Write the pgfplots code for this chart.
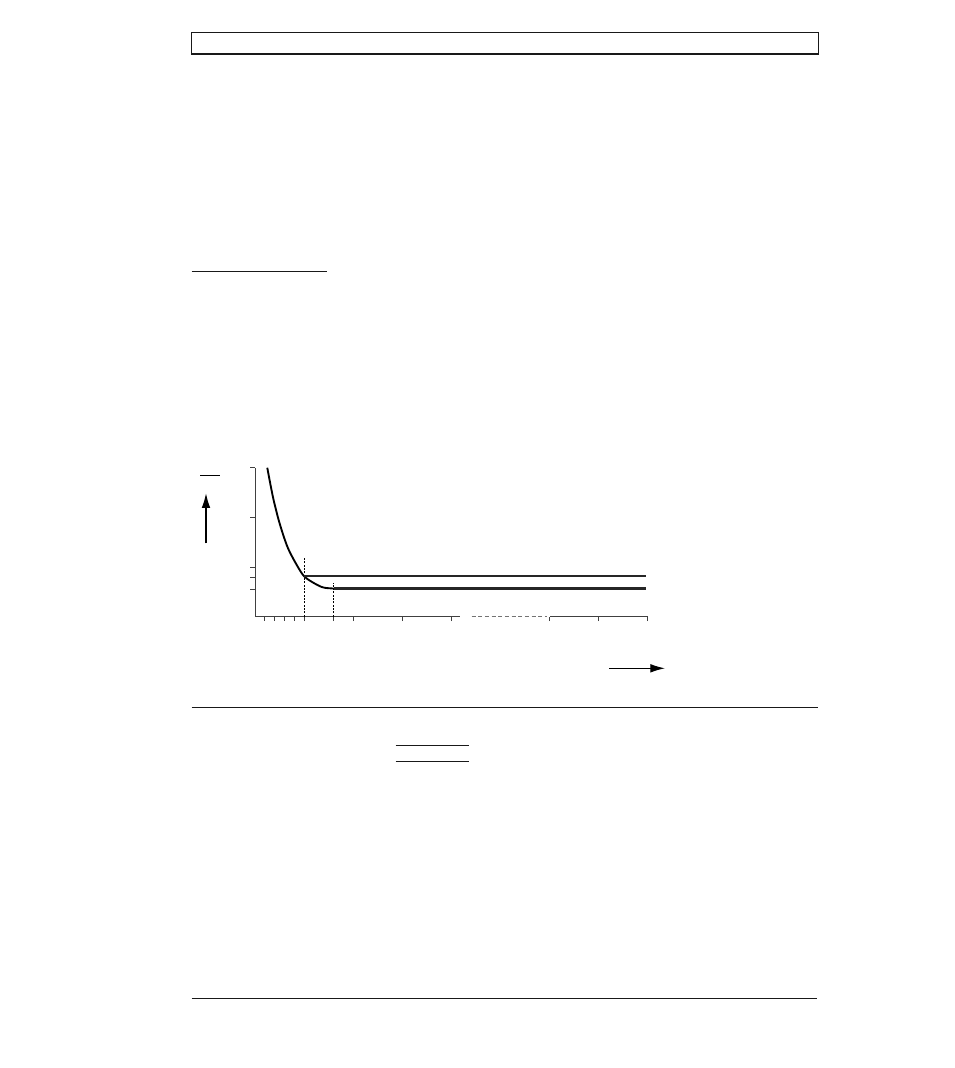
\documentclass[border=0pt]{standalone}
\usepackage{pgfplots}
\pgfplotsset{compat=1.18}
\usetikzlibrary{arrows.meta}
\definecolor{axisgrey}{HTML}{404040}

\begin{document}
\begin{tikzpicture}
  % page frame, 1px = 0.75pt, y counted downwards
  \begin{scope}[x=0.75pt,y=-0.75pt]
    \path[use as bounding box, fill=white] (0,0) rectangle (954,1068);
    \draw[line width=1pt, black!90] (191.7,32.5) rectangle (818.3,54);
    \draw[line width=0.9pt, black!90] (191.7,271.2) -- (326.7,271.2);
    \draw[line width=0.9pt, black!90] (191.7,707.3) -- (818.3,707.3);
    \draw[line width=0.9pt, black!90] (395.5,745.3) -- (469,745.3);
    \draw[line width=0.9pt, black!90] (395.5,761.3) -- (469,761.3);
    \draw[line width=0.9pt, black!90] (191.7,998.3) -- (817,998.3);
    % arrows beside the axes
    \draw[line width=0.7pt] (200,475) -- (220,475);
    \draw[line width=0.9pt, -{Latex[length=11pt,width=6.5pt]}] (206,543.3) -- (206,493.3);
    \draw[line width=0.9pt, -{Latex[length=11pt,width=6.5pt]}] (609,668.3) -- (665,668.3);
    \coordinate (O) at (255,616.5);
  \end{scope}

  \begin{axis}[
      at={(O)}, anchor=south west,
      x=36.825pt, y=37.2pt,
      xmin=0, xmax=8, ymin=0, ymax=3,
      axis lines*=left,
      axis line style={axisgrey, line width=0.7pt},
      x axis line style={draw=none},
      tick align=outside,
      major tick length=3.5pt, minor tick length=3pt,
      tick style={axisgrey, line width=0.6pt},
      xtick={1,2,3,4,6,7,8}, minor xtick={0.2,0.4,0.6,0.8},
      extra x ticks={1.6}, extra x tick labels={},
      ytick={1,2,3},
      extra y ticks={0.54,0.79}, extra y tick labels={},
      xticklabels={}, yticklabels={},
      clip=false,
    ]
    % broken x axis line
    \draw[axisgrey, line width=0.7pt] (axis cs:0,0) -- (axis cs:4.17,0);
    \draw[black!55, line width=0.7pt, dash pattern=on 3pt off 2pt] (axis cs:4.41,0) -- (axis cs:5.94,0);
    \draw[axisgrey, line width=0.7pt] (axis cs:6.01,0) -- (axis cs:8,0);

    % markers at the two break points
    \addplot[black, line width=0.6pt, dash pattern=on 1.5pt off 1pt] coordinates {(1,0) (1,1.2)};
    \addplot[black, line width=0.6pt, dash pattern=on 1.5pt off 1pt] coordinates {(1.6,0) (1.6,0.68)};

    % decaying curve
    \addplot[black, line width=1.4pt, smooth] coordinates {
      (0.25,3.0) (0.305,2.71) (0.373,2.375) (0.475,1.97) (0.576,1.64)
      (0.675,1.37) (0.815,1.10) (0.984,0.83) (1.155,0.70) (1.358,0.595)
      (1.48,0.572) (1.6,0.565)
    };
    % the two levels
    \addplot[black!85, line width=1.6pt] coordinates {(0.99,0.81) (7.96,0.81)};
    \addplot[black!85, line width=1.6pt] coordinates {(1.6,0.565) (7.96,0.565)};
  \end{axis}
\end{tikzpicture}
\end{document}
